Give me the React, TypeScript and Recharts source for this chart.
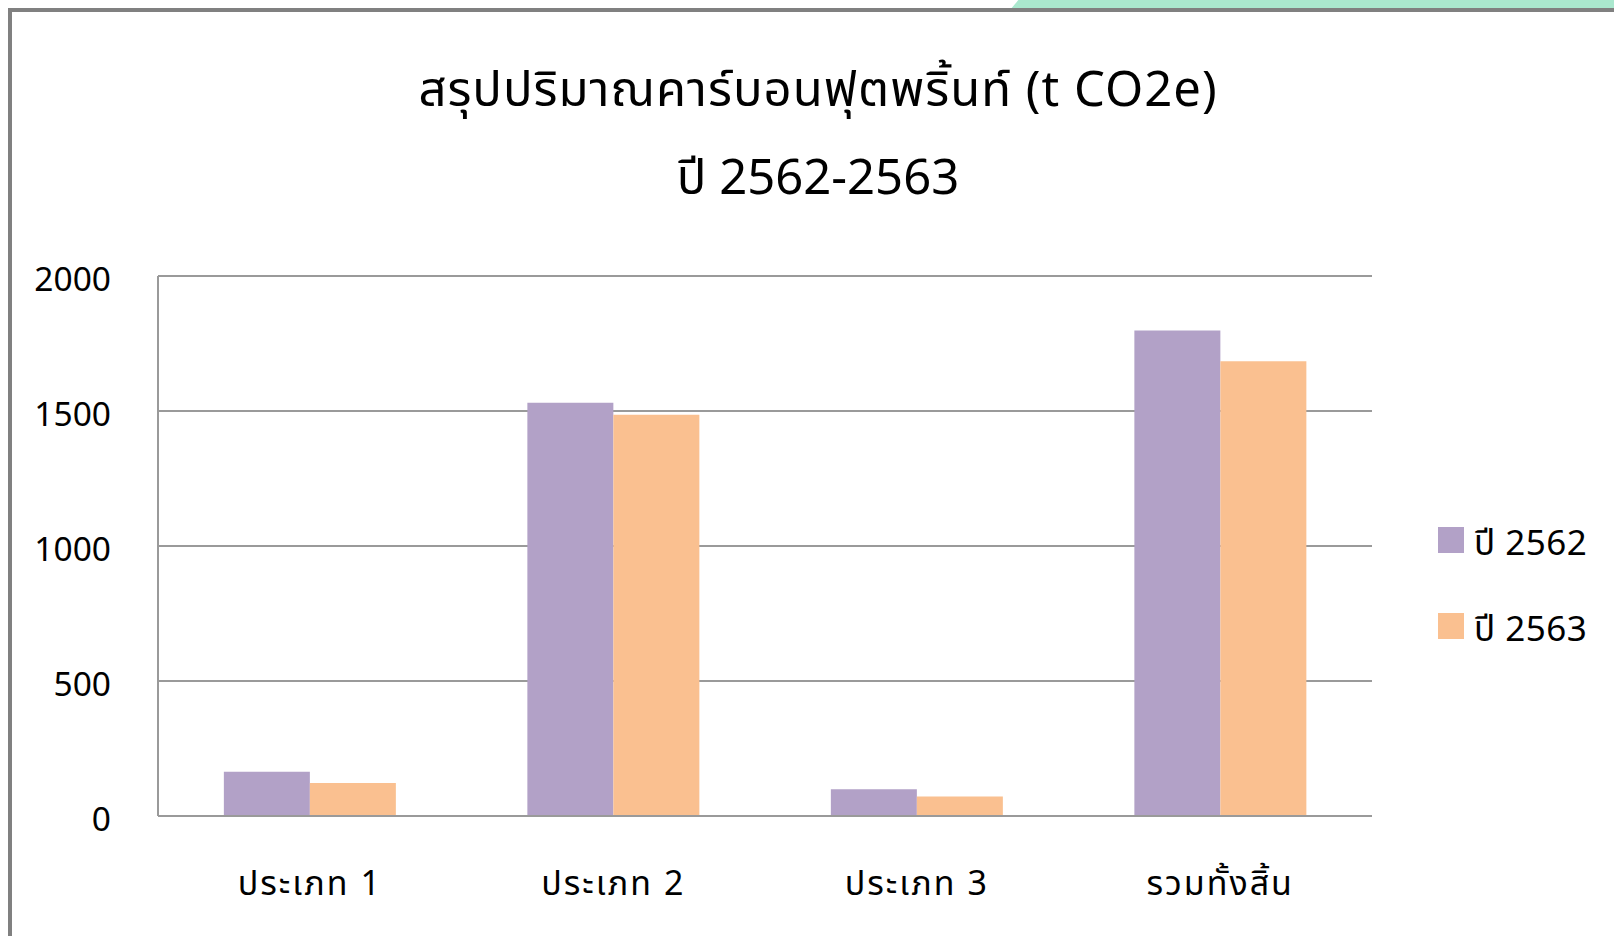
import React from "react";
import { BarChart, Bar, XAxis, YAxis, CartesianGrid, Legend } from "recharts";

const categories = ["ประเภท 1", "ประเภท 2", "ประเภท 3", "รวมทั้งสิ้น"];
const series2562 = [164, 1531, 99, 1798];
const series2563 = [122, 1486, 72, 1684];
const yTicks = [0, 500, 1000, 1500, 2000];
const seriesNames = ["ปี 2562", "ปี 2563"];
const seriesColors = ["#B2A1C7", "#FAC090"];
const titleLines = ["สรุปปริมาณคาร์บอนฟุตพริ้นท์ (t CO2e)", "ปี 2562-2563"];

const data = categories.map((c, i) => ({ name: c, y2562: series2562[i], y2563: series2563[i] }));

const FONT = "Tahoma, 'Noto Sans Thai', 'Noto Sans', 'DejaVu Sans', sans-serif";

const LegendContent = () => (
  <div style={{ fontFamily: FONT, fontSize: 35, color: "#000" }}>
    {seriesNames.map((n, i) => (
      <div key={n} style={{ display: "flex", alignItems: "center", height: 86 }}>
        <div style={{ width: 26, height: 26, background: seriesColors[i], marginRight: 10 }} />
        <span style={{ position: "relative", top: 4, letterSpacing: 0.5 }}>{n}</span>
      </div>
    ))}
  </div>
);

export default function App() {
  return (
    <div style={{ position: "fixed", left: 0, top: 0, width: 1614, height: 936, overflow: "hidden", background: "#fff", fontFamily: FONT }}>
      <div style={{ position: "absolute", left: 1010, top: 0, width: 700, height: 10, background: "#AAE8CE", transform: "skewX(-40deg)", transformOrigin: "bottom left" }} />
      <div style={{ position: "absolute", left: 8, top: 8, width: 1700, height: 1000, borderLeft: "4px solid #808080", borderTop: "4px solid #808080", background: "#fff" }} />
      <div style={{ position: "absolute", left: 318, width: 1000, top: 61, height: 60, lineHeight: "60px", textAlign: "center", fontSize: 49, letterSpacing: 1, color: "#000" }}>
        {titleLines[0]}
      </div>
      <div style={{ position: "absolute", left: 318, width: 1000, top: 149, height: 60, lineHeight: "60px", textAlign: "center", fontSize: 49, letterSpacing: 0, color: "#000" }}>
        {titleLines[1]}
      </div>
      <div style={{ position: "absolute", left: 0, top: 0 }}>
        <BarChart width={1614} height={936} data={data} margin={{ top: 276, right: 242, bottom: 60, left: 58 }} barCategoryGap="21.7%" barGap={0}>
          <CartesianGrid vertical={false} stroke="#9A9A9A" strokeWidth={2} />
          <XAxis dataKey="name" height={60} tickLine={false} tickSize={0} tickMargin={55} axisLine={{ stroke: "#9A9A9A", strokeWidth: 2 }} tick={{ fill: "#000", fontSize: 34, fontFamily: FONT, letterSpacing: 2 }} />
          <YAxis width={100} domain={[0, 2000]} ticks={yTicks} tickLine={false} tickSize={0} tickMargin={47} axisLine={{ stroke: "#9A9A9A", strokeWidth: 2 }} tick={{ fill: "#000", fontSize: 33.5, fontFamily: FONT, dy: 3 }} />
          <Legend layout="horizontal" align="center" verticalAlign="middle" content={<LegendContent />} wrapperStyle={{ position: "absolute", left: 1438, top: 497, width: 176 }} />
          <Bar dataKey="y2562" name={seriesNames[0]} fill={seriesColors[0]} isAnimationActive={false} />
          <Bar dataKey="y2563" name={seriesNames[1]} fill={seriesColors[1]} isAnimationActive={false} />
        </BarChart>
      </div>
    </div>
  );
}
